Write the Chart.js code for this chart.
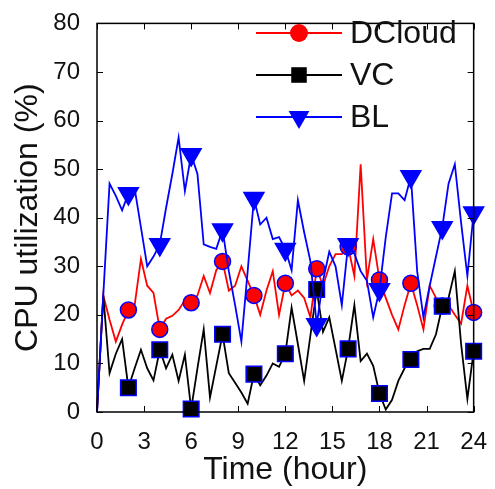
<!DOCTYPE html>
<html>
<head>
<meta charset="utf-8">
<script src="https://cdn.jsdelivr.net/npm/chart.js@4.4.1/dist/chart.umd.min.js"></script>
<style>
  html, body { margin: 0; padding: 0; background: #fff; }
  #chart { display: block; }
</style>
</head>
<body>
<canvas id="chart" width="495" height="489"></canvas>
<script>
// sample times (hour), one sample every 24 min
const hours = [
  0, 0.4, 0.8, 1.2, 1.6, 2, 2.4, 2.8, 3.2, 3.6,
  4, 4.4, 4.8, 5.2, 5.6, 6, 6.4, 6.8, 7.2, 7.6,
  8, 8.4, 8.8, 9.2, 9.6, 10, 10.4, 10.8, 11.2, 11.6,
  12, 12.4, 12.8, 13.2, 13.6, 14, 14.4, 14.8, 15.2, 15.6,
  16, 16.4, 16.8, 17.2, 17.6, 18, 18.4, 18.8, 19.2, 19.6,
  20, 20.4, 20.8, 21.2, 21.6, 22, 22.4, 22.8, 23.2, 23.6,
  24,
];

// CPU utilization (%)
const dcloud = [
  0, 24, 19, 14.5, 18, 21, 22, 31.5, 26, 24.5,
  17, 19.2, 19.8, 21, 23, 22.5, 24, 28, 24.5, 29.2,
  31, 25, 26, 30, 27, 24, 20, 25, 29, 20,
  26.5, 24, 25, 23.5, 19.5, 29.5, 26, 30, 32.5, 32.5,
  34, 28, 51, 27.2, 35.6, 27.2, 23.5, 20, 17, 22,
  26.5, 22, 17, 26, 23.5, 21.8, 22, 20, 18.2, 26,
  20.5,
];
const vc = [
  0, 24, 8, 12, 15, 5, 9, 12.8, 9, 6.5,
  12.8, 9, 11.8, 6.4, 11.8, 0.6, 9, 17, 3, 9.5,
  16, 8, 6, 4, 1.7, 7.8, 5.5, 7.5, 10, 9.3,
  12, 21.5, 14, 6.4, 15.8, 25.2, 16.5, 19.5, 13, 6.4,
  13, 22, 10.5, 12, 9.5, 3.8, 0.5, 2.5, 6.4, 9,
  10.8, 12.5, 13, 13, 16, 21.8, 23.5, 29, 14, 2.7,
  12.5,
];
const bl = [
  0, 24, 47, 44.5, 41.5, 45, 46, 38, 30, 32,
  34.5, 42, 49, 56.5, 45.5, 53, 49, 34.5, 34, 33.6,
  37.5, 29, 22, 14.5, 29, 44, 38.6, 40, 35.6, 36,
  33.5, 29.2, 43.6, 37, 31, 18, 27, 33, 30, 22,
  34.5, 32.6, 29, 27, 19.5, 25.2, 36, 45, 45, 43.6,
  48.5, 29, 19.5, 26, 32, 38, 47, 51, 39, 28,
  41,
];

const seriesNames = ['DCloud', 'VC', 'BL'];
const markerEvery = 5; // a marker every 2 hours

const FONT = "'Liberation Sans', Arial, Helvetica, sans-serif";

function toPoints(values) {
  return hours.map((h, i) => ({ x: h, y: values[i] }));
}

function markerSize(size) {
  return (ctx) => (ctx.dataIndex > 0 && ctx.dataIndex % markerEvery === 0 ? size : 0);
}

function makeDataset(label, values, color, style) {
  return {
    label,
    data: toPoints(values),
    borderColor: color,
    borderWidth: 1.8,
    backgroundColor: color,
    pointStyle: style.pointStyle,
    rotation: style.rotation || 0,
    pointRadius: markerSize(style.radius),
    pointBackgroundColor: color,
    pointBorderColor: style.edge,
    pointBorderWidth: 1.5,
    legendRadius: style.legendRadius,
    order: style.order,
    tension: 0,
    clip: false,
  };
}

function drawMarker(ctx, style, radius, rotation, x, y) {
  if (Chart.helpers && Chart.helpers.drawPoint) {
    Chart.helpers.drawPoint(ctx, { pointStyle: style, radius, rotation, borderWidth: 0 }, x, y);
    return;
  }
  ctx.beginPath();
  ctx.arc(x, y, radius, 0, Math.PI * 2);
  ctx.fill();
}

// box round the plot, inward ticks on all sides, and a matlab-like legend
const frameAndLegend = {
  id: 'frameAndLegend',
  afterDraw(chart, args, opts) {
    const { ctx, chartArea: a, scales } = chart;
    const tick = 6;
    ctx.save();
    ctx.strokeStyle = '#000';
    ctx.lineWidth = 1;
    ctx.beginPath();
    scales.x.ticks.forEach((t) => {
      const px = Math.round(scales.x.getPixelForValue(t.value)) + 0.5;
      ctx.moveTo(px, a.bottom); ctx.lineTo(px, a.bottom - tick);
      ctx.moveTo(px, a.top); ctx.lineTo(px, a.top + tick);
    });
    scales.y.ticks.forEach((t) => {
      const py = Math.round(scales.y.getPixelForValue(t.value)) + 0.5;
      ctx.moveTo(a.left, py); ctx.lineTo(a.left + tick, py);
      ctx.moveTo(a.right, py); ctx.lineTo(a.right - tick, py);
    });
    ctx.stroke();

    ctx.lineWidth = 1.5;
    ctx.strokeRect(a.left, a.top, a.right - a.left, a.bottom - a.top);

    chart.data.datasets.forEach((ds, i) => {
      const y = opts.top + i * opts.gap;
      ctx.strokeStyle = ds.borderColor;
      ctx.lineWidth = 1.8;
      ctx.beginPath();
      ctx.moveTo(opts.lineFrom, y);
      ctx.lineTo(opts.lineTo, y);
      ctx.stroke();
      ctx.fillStyle = ds.borderColor;
      drawMarker(ctx, ds.pointStyle, ds.legendRadius, ds.rotation, (opts.lineFrom + opts.lineTo) / 2, y);
      ctx.fillStyle = '#111';
      ctx.font = `${opts.fontSize}px ${FONT}`;
      ctx.textBaseline = 'middle';
      ctx.textAlign = 'left';
      ctx.fillText(ds.label, opts.textX, y + 1);
    });
    ctx.restore();
  },
};

// order: BL drawn last (on top), DCloud first
const datasets = [
  makeDataset(seriesNames[0], dcloud, '#ff0000', { pointStyle: 'circle', radius: 8, legendRadius: 9, edge: '#0000ff', order: 3 }),
  makeDataset(seriesNames[1], vc, '#000000', { pointStyle: 'rect', radius: 11, legendRadius: 11, edge: '#0000ff', order: 2 }),
  makeDataset(seriesNames[2], bl, '#0000ff', { pointStyle: 'triangle', rotation: 180, radius: 11.5, legendRadius: 12, edge: '#0000ff', order: 1 }),
];

new Chart(document.getElementById('chart'), {
  type: 'line',
  data: { datasets },
  options: {
    responsive: false,
    animation: false,
    devicePixelRatio: 1,
    layout: { padding: { top: 14, right: 19, left: 0, bottom: 0 } },
    plugins: {
      legend: { display: false },
      tooltip: { enabled: false },
      frameAndLegend: { top: 33, gap: 42, lineFrom: 256, lineTo: 342, textX: 350, fontSize: 32 },
    },
    scales: {
      x: {
        type: 'linear',
        min: 0,
        max: 24,
        grid: { display: false },
        border: { display: false },
        ticks: { stepSize: 3, padding: 8, color: '#111', font: { family: FONT, size: 24 } },
        title: { display: true, text: 'Time (hour)', color: '#111', padding: { top: 0, bottom: 0 }, font: { family: FONT, size: 32 } },
        afterFit: (scale) => { scale.height = 77; },
      },
      y: {
        min: 0,
        max: 80,
        grid: { display: false },
        border: { display: false },
        ticks: { stepSize: 10, padding: 9, color: '#111', font: { family: FONT, size: 24 } },
        title: { display: true, text: 'CPU utilization (%)', color: '#111', padding: { top: 9, bottom: 0 }, font: { family: FONT, size: 32 } },
        afterFit: (scale) => { scale.width = 97; },
      },
    },
  },
  plugins: [frameAndLegend],
});
</script>
</body>
</html>
